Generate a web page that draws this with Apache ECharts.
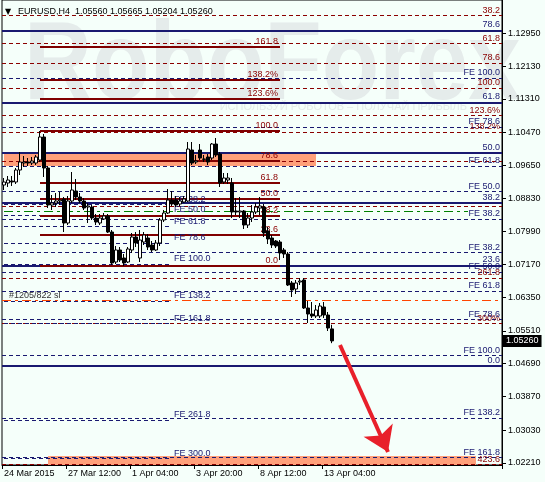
<!DOCTYPE html>
<html><head><meta charset="utf-8">
<script src="https://cdn.jsdelivr.net/npm/echarts@6/dist/echarts.min.js"></script>
<style>html,body{margin:0;padding:0;background:#F5FFFA}#c{width:545px;height:482px}</style>
</head><body><div id="c"></div>
<script>
// ---- candles (H4 bars, 24 Mar 2015 20:00 .. 13 Apr 2015 08:00) ----
const opens  = [1.09158,1.09208,1.09258,1.09233,1.09533,1.09708,1.09733,1.09708,1.09708,1.09783,
                1.10358,1.09583,1.08658,1.08708,1.08758,1.08808,1.08208,1.08758,1.09008,1.08858,
                1.08758,1.08608,1.08608,1.08333,1.08208,1.08308,1.08383,1.07983,1.07233,1.07533,
                1.07333,1.07233,1.07533,1.07858,1.07333,1.07733,1.07833,1.07658,1.07533,1.07708,
                1.08283,1.08458,1.08783,1.08783,1.08683,1.08733,1.08758,1.10033,1.09733,1.10033,
                1.09808,1.09858,1.09833,1.10183,1.09933,1.09233,1.09283,1.09208,1.08508,1.08483,
                1.08508,1.08158,1.08333,1.08483,1.08583,1.08608,1.08008,1.07833,1.07758,1.07733,
                1.07533,1.07433,1.06708,1.06558,1.06733,1.06783,1.06083,1.05933,1.05883,1.05883,
                1.06108,1.05908,1.05560];
const closes = [1.09233,1.09283,1.09233,1.09533,1.09733,1.09733,1.09708,1.09758,1.09858,1.10358,
                1.09583,1.08658,1.08708,1.08758,1.08783,1.08208,1.08758,1.09033,1.08858,1.08758,
                1.08583,1.08633,1.08333,1.08233,1.08333,1.08383,1.07983,1.07208,1.07533,1.07283,
                1.07208,1.07558,1.07858,1.07708,1.07783,1.07908,1.07608,1.07533,1.07708,1.08283,
                1.08458,1.08783,1.08683,1.08658,1.08758,1.08808,1.10058,1.09708,1.09758,1.09833,
                1.09800,1.09733,1.10183,1.09908,1.09208,1.09333,1.09333,1.08483,1.08483,1.08508,
                1.08158,1.08333,1.08483,1.08608,1.08633,1.07958,1.07808,1.07658,1.07633,1.07458,
                1.07433,1.06658,1.06533,1.06708,1.06758,1.06083,1.05933,1.05883,1.06033,1.06133,
                1.05908,1.05583,1.05260];
const lows   = [1.09033,1.09108,1.09133,1.09183,1.09408,1.09608,1.09633,1.09658,1.09658,1.09733,
                1.09358,1.08583,1.08533,1.08608,1.08658,1.07983,1.08158,1.08708,1.08783,1.08708,
                1.08533,1.08208,1.08283,1.08158,1.08158,1.08283,1.07958,1.07158,1.07183,1.07233,
                1.07133,1.07208,1.07458,1.07608,1.07233,1.07658,1.07533,1.07483,1.07508,1.07633,
                1.08233,1.08433,1.08633,1.08608,1.08633,1.08708,1.08733,1.09658,1.09683,1.09783,
                1.09733,1.09658,1.09783,1.09858,1.09108,1.09183,1.09183,1.08333,1.08408,1.08333,
                1.08058,1.08083,1.08233,1.08433,1.08408,1.07858,1.07683,1.07583,1.07583,1.07283,
                1.07333,1.06633,1.06358,1.06433,1.06658,1.06058,1.05708,1.05833,1.05833,1.05833,
                1.05833,1.05508,1.05204];
const highs  = [1.09333,1.09383,1.09383,1.09583,1.09983,1.09883,1.09833,1.09858,1.09908,1.10508,
                1.10433,1.09633,1.08908,1.08958,1.08983,1.08858,1.08883,1.09483,1.09308,1.08958,
                1.08833,1.08708,1.08658,1.08433,1.08433,1.08458,1.08433,1.08033,1.07633,1.07608,
                1.07433,1.07608,1.07958,1.07983,1.08033,1.07983,1.07933,1.07758,1.07783,1.08333,
                1.08533,1.09058,1.09008,1.08883,1.08858,1.08883,1.10233,1.10233,1.09908,1.10183,
                1.09908,1.09933,1.10208,1.10333,1.09983,1.09458,1.09458,1.09333,1.08833,1.08858,
                1.08533,1.08458,1.08658,1.08708,1.08858,1.08683,1.08108,1.07908,1.07783,1.07783,
                1.07583,1.07483,1.06758,1.06783,1.06833,1.06833,1.06258,1.06233,1.06158,1.06208,
                1.06233,1.05983,1.05665];
const slotCount = 125;              // bars + empty future slots on the time axis
const xTickIndex  = [0, 16, 32, 48, 64, 80];
const xTickLabels = ['24 Mar 2015', '27 Mar 12:00', '1 Apr 04:00', '3 Apr 20:00', '8 Apr 12:00', '13 Apr 04:00'];
const yTickValues = [1.12950, 1.12130, 1.11310, 1.10470, 1.09650, 1.08830, 1.07990, 1.07170,
                     1.06350, 1.05510, 1.04690, 1.03870, 1.03030, 1.02210];
const yMin = 1.02158, yMax = 1.13783;
const lastPrice = 1.05260;
const header = 'EURUSD,H4  1.05560 1.05665 1.05204 1.05260';

// ---- Fibonacci objects ----
const redPrices = [1.13390, 1.12690, 1.12208, 1.11575, 1.10890, 1.10475, 1.09758, 1.08625, 1.06825, 1.05690, 1.02165];
const redLabels = ['38.2', '61.8', '78.6', '100.0', '123.6%', '138.2%', '', '', '261.8', '300%', '423.6'];
const navyPrices = [1.13025, 1.11225, 1.09958, 1.08715, 1.07150, 1.04640];
const navyLabels = ['78.6', '61.8', '50.0', '38.2', '23.6', '0.0'];
const feRightPrices = [1.11833, 1.10608, 1.09625, 1.08990, 1.08308, 1.07465, 1.06975, 1.06508, 1.05795, 1.04895, 1.03325, 1.02340];
const feRightLabels = ['FE 100.0', 'FE 78.6', 'FE 61.8', 'FE 50.0', 'FE 38.2', 'FE 38.2', 'FE 50.0', 'FE 61.8', 'FE 78.6', 'FE 100.0', 'FE 138.2', 'FE 161.8'];
const feMidPrices = [1.08670, 1.08400, 1.08115, 1.07700, 1.07183, 1.06258, 1.05695, 1.03283, 1.02315];
const feMidLabels = ['FE 38.2', 'FE 50.0', 'FE 61.8', 'FE 78.6', 'FE 100.0', 'FE 138.2', 'FE 161.8', 'FE 261.8', 'FE 300.0'];
const feMidSpan = [0, 42];
const retrPrices = [1.07133, 1.07920, 1.08390, 1.08808, 1.09220, 1.09770, 1.10508, 1.11320, 1.11783, 1.12613];
const retrLabels = ['0.0', '23.6', '38.2', '50.0', '61.8', '78.6', '100.0', '123.6%', '138.2%', '161.8'];
const retrSpan = [9, 69];
const zoneUpper = [0, 1.09975, 78, 1.09633];
const zoneLower = [11, 1.02383, 118, 1.02158];
const openLine = {price: 1.08508, span: [0, 116]};
const slLine = {price: 1.06265, label: '#1205/822 sl'};
const arrowFrom = [84, 1.05158], arrowTo = [96, 1.02483];

// ---- build ----
const FONT = 'Liberation Sans';
const RED = '#8B0000', NAVY = '#191970', MAROON = '#800000';
const categories = Array.from({length: slotCount}, (_, i) => 'b' + i);
const candles = opens.map((o, i) => [o, closes[i], lows[i], highs[i]]);
const base = {type: 'line', data: [], silent: true, animation: false};
const lab = (color) => ({fontFamily: FONT, fontSize: 9, color: color});
const ml = (o) => Object.assign({silent: true, symbol: ['none', 'none'], animation: false, precision: 5}, o);
const HIDDEN = {color: 'rgba(0,0,0,0)', width: 0};

const midData = [];
feMidPrices.forEach((p, i) => {
  midData.push([{coord: [feMidSpan[0], p]}, {coord: [feMidSpan[1], p]}]);
  midData.push([{coord: [feMidSpan[1], p], lineStyle: HIDDEN, label: {show: true, formatter: feMidLabels[i]}},
                {coord: [feMidSpan[1] + 12, p]}]);
});

const chart = echarts.init(document.getElementById('c'), null, {renderer: 'canvas'});
chart.setOption({
  backgroundColor: '#F5FFFA',
  animation: false,
  graphic: [
    {type: 'text', left: 24, top: 12, z: -10, silent: true, scaleX: 0.84,
     style: {text: 'RoboForex', font: 'bold 112px "Liberation Sans"', fill: '#E5ECEB'}},
    {type: 'text', right: 78, top: 101, z: -10, silent: true,
     style: {text: 'ИСПОЛЬЗУЙ РОБОТОВ – ПОЛУЧАЙ ПРИБЫЛЬ', font: '11px "Liberation Sans"', fill: '#E3EAE9'}},
    {type: 'text', left: 5, top: 8, z: 50, style: {text: '▼', font: '8px "DejaVu Sans"', fill: '#000'}},
    {type: 'text', left: 18, top: 7, z: 50, style: {text: header, font: '9px "Liberation Sans"', fill: '#000'}}
  ],
  grid: {left: 2, right: 43, top: 0, bottom: 17, show: true, borderColor: '#000', borderWidth: 1, backgroundColor: 'transparent'},
  xAxis: {
    type: 'category', data: categories, boundaryGap: true,
    axisLine: {lineStyle: {color: '#000'}},
    axisTick: {show: true, length: 4, interval: (i) => xTickIndex.includes(i), lineStyle: {color: '#000'}},
    axisLabel: {interval: (i) => xTickIndex.includes(i), align: 'left', margin: 4, fontFamily: FONT, fontSize: 9, color: '#000',
                formatter: (v, i) => { const k = xTickIndex.indexOf(i); return k >= 0 ? xTickLabels[k] : ''; }},
    splitLine: {show: false}
  },
  yAxis: {
    type: 'value', position: 'right', min: yMin, max: yMax, scale: true,
    axisLine: {show: true, lineStyle: {color: '#000'}},
    axisTick: {show: true, length: 4, customValues: yTickValues, lineStyle: {color: '#000'}},
    axisLabel: {customValues: yTickValues, margin: 6, fontFamily: FONT, fontSize: 9, color: '#000', formatter: (v) => v.toFixed(5)},
    splitLine: {show: false}
  },
  series: [
    Object.assign({}, base, {z: 1, markArea: {silent: true, itemStyle: {color: '#FFA07A'}, data: [
      [{coord: [zoneUpper[0], zoneUpper[1]]}, {coord: [zoneUpper[2], zoneUpper[3]]}],
      [{coord: [zoneLower[0], zoneLower[1]]}, {coord: [zoneLower[2], zoneLower[3]]}]
    ]}}),
    Object.assign({}, base, {z: 2, markLine: ml({
      lineStyle: {color: RED, type: [4, 3], width: 1},
      label: Object.assign({position: 'insideEndTop', distance: [2, 1]}, lab(RED)),
      data: redPrices.map((p, i) => ({yAxis: p, label: {formatter: redLabels[i]}}))})}),
    Object.assign({}, base, {z: 2, markLine: ml({
      lineStyle: {color: NAVY, type: [4, 3], width: 1},
      label: Object.assign({position: 'insideEndTop', distance: [2, 1]}, lab(NAVY)),
      data: feRightPrices.map((p, i) => ({yAxis: p, label: {formatter: feRightLabels[i]}}))})}),
    Object.assign({}, base, {z: 2, markLine: ml({
      lineStyle: {color: NAVY, type: [4, 3], width: 1},
      label: Object.assign({show: false, position: 'insideStartTop', distance: [2, 1]}, lab(NAVY)),
      data: midData})}),
    Object.assign({}, base, {z: 2, markLine: ml({
      lineStyle: {color: '#008000', type: [9, 4, 3, 4], width: 1}, label: {show: false},
      data: [[{coord: [openLine.span[0], openLine.price]}, {coord: [openLine.span[1], openLine.price]}]]})}),
    Object.assign({}, base, {z: 2, markLine: ml({
      lineStyle: {color: '#FF4500', type: [9, 4, 3, 4], width: 1},
      label: Object.assign({position: 'insideStartTop', distance: [7, 1]}, lab('#333')),
      data: [{yAxis: slLine.price, label: {formatter: slLine.label}}]})}),
    Object.assign({}, base, {z: 3, markLine: ml({
      lineStyle: {color: NAVY, type: 'solid', width: 2},
      label: Object.assign({position: 'insideEndTop', distance: [2, 1]}, lab(NAVY)),
      data: navyPrices.map((p, i) => ({yAxis: p, label: {formatter: navyLabels[i]}}))})}),
    Object.assign({}, base, {z: 3, markLine: ml({
      lineStyle: {color: MAROON, type: 'solid', width: 2},
      label: Object.assign({position: 'insideEndTop', distance: [2, 1]}, lab(RED)),
      data: retrPrices.map((p, i) => [{coord: [retrSpan[0], p]}, {coord: [retrSpan[1], p], label: {formatter: retrLabels[i]}}])})}),
    {type: 'candlestick', data: candles, barWidth: 3, z: 5, silent: true, animation: false,
     itemStyle: {color: '#FFFFFF', color0: '#000000', borderColor: '#000000', borderColor0: '#000000', borderWidth: 1}},
    Object.assign({}, base, {z: 8, markLine: ml({
      lineStyle: HIDDEN,
      label: {position: 'end', distance: 1, backgroundColor: '#000', color: '#fff',
              padding: [2, 3, 1, 3], fontFamily: FONT, fontSize: 9},
      data: [{yAxis: lastPrice, label: {formatter: lastPrice.toFixed(5)}}]})}),
    Object.assign({}, base, {z: 6, markLine: ml({symbol: ['none', 'arrow'], symbolSize: 24,
      lineStyle: {color: '#E8202A', type: 'solid', width: 4}, label: {show: false},
      data: [[{coord: arrowFrom}, {coord: arrowTo}]]})})
  ]
});
</script></body></html>
